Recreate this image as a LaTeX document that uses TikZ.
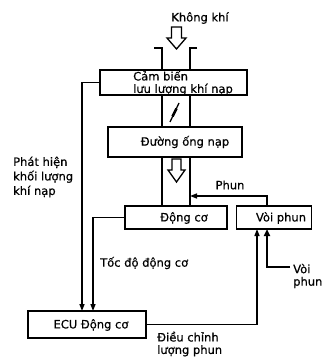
\documentclass[tikz,border=0pt]{standalone}
\usepackage{fontspec}
\setmainfont{DejaVu Sans}[FakeBold=0.5]
\usetikzlibrary{arrows.meta}
\begin{document}
\begin{tikzpicture}[x=1pt,y=-1pt,
 box/.style={draw,line width=1.7pt,inner sep=0,outer sep=0},
 txt/.style={font=\fontsize{11.5}{12.5}\selectfont,inner sep=0},
 conn/.style={line width=1.5pt},
 arr/.style={conn,-{Triangle[length=7pt,width=5pt]}},
 hollow/.style={draw,line width=1.3pt,fill=white}]
\useasboundingbox[fill=white] (0,0) rectangle (327,361);
% boxes
\node[box,minimum width=147,minimum height=25] (sensor) at (173.5,82.5) {};
\node[box,minimum width=134,minimum height=30] (manifold) at (175,142) {};
\node[box,minimum width=102,minimum height=23] (engine) at (176,217.5) {};
\node[box,minimum width=75,minimum height=23] (injector) at (274,217.5) {};
\node[box,minimum width=118,minimum height=27] (ecu) at (87,324.5) {};
% helper coordinates
\coordinate (xl) at (162,0);
\coordinate (xr) at (190,0);
\coordinate (xa) at (82,0);
\coordinate (xb) at (93,0);
\coordinate (xe) at (257,0);
\coordinate (xv) at (267,0);
\coordinate (phunY) at (0,196);
\coordinate (fl) at (154,48);
\coordinate (fr) at (197,48);
\coordinate (vin) at (290,267);
% texts
\node[txt] (tair) at (200,18) {Không khí};
\node[txt,anchor=west,align=left] (tsensor) at (133,83) {Cảm biến\\lưu lượng khí nạp};
\node[txt] (tman) at (185,142) {Đường ống nạp};
\node[txt] (teng) at (184,218) {Động cơ};
\node[txt] (tinj) at (281,218) {Vòi phun};
\node[txt] (tecu) at (91,325) {ECU Động cơ};
\node[txt] (tphun) at (230,185) {Phun};
\node[txt,anchor=west,align=left,font=\fontsize{11.5}{14.5}\selectfont] (tdetect) at (13,177) {Phát hiện\\khối lượng\\khí nạp};
\node[txt,anchor=west] (tspeed) at (100,263) {Tốc độ động cơ};
\node[txt,anchor=west,align=left] (tadj) at (157,344) {Điều chỉnh\\lượng phun};
\node[txt,anchor=west,align=left] (tvp) at (293,276) {Vòi\\phun};
% pipe
\draw[conn] (fl) -- (fl -| xl) -- (sensor.north -| xl);
\draw[conn] (fr) -- (fr -| xr) -- (sensor.north -| xr);
\draw[conn] (sensor.south -| xl) -- (manifold.north -| xl);
\draw[conn] (sensor.south -| xr) -- (manifold.north -| xr);
\draw[conn] (manifold.south -| xl) -- (engine.north -| xl);
\draw[conn] (manifold.south -| xr) -- (engine.north -| xr);
% throttle
\draw[line width=1.3pt] (170,122) -- (179,103);
\draw[line width=2.6pt] (172.5,116.5) -- (176.5,108.5);
% hollow arrows
\draw[hollow] (171.5,27) -- (181.5,27) -- (181.5,38) -- (186,38) -- (176.5,49) -- (167,38) -- (171.5,38) -- cycle;
\draw[hollow] (172,159) -- (181,159) -- (181,170) -- (185,170) -- (176.5,182) -- (168,170) -- (172,170) -- cycle;
% connectors
\draw[arr] (sensor.west) -| (ecu.north -| xa);
\draw[arr] (engine.west) -| (ecu.north -| xb);
\draw[arr] (ecu.east) -| (injector.south -| xe);
\draw[arr] (injector.north -| xv) |- (xr |- phunY);
\draw[line width=2.6pt,-{Triangle[length=7pt,width=6pt]}] (vin) -- (vin -| xv) -- (injector.south -| xv);
\end{tikzpicture}
\end{document}
